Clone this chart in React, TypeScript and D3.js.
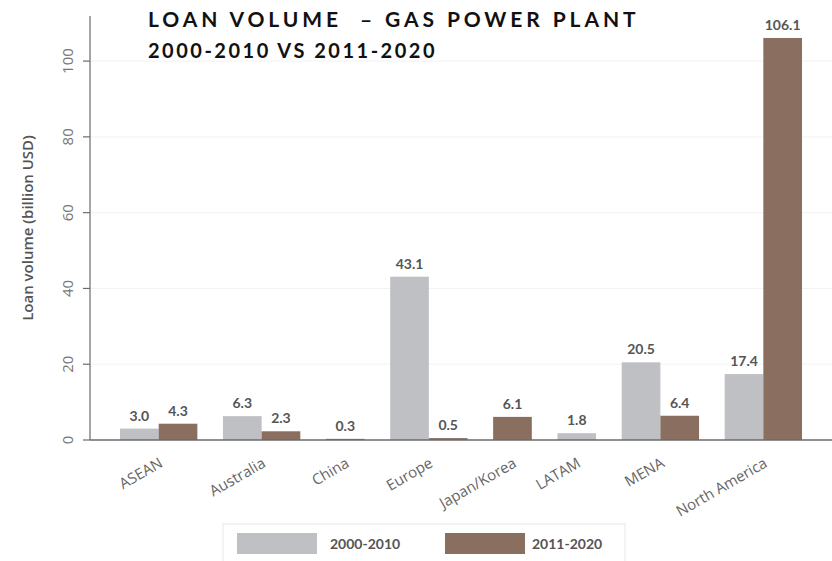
import React from "react";
import * as d3 from "d3";

const categories = ["ASEAN", "Australia", "China", "Europe", "Japan/Korea", "LATAM", "MENA", "North America"];
const series1: (number | null)[] = [3.0, 6.3, null, 43.1, null, 1.8, 20.5, 17.4];
const series2: (number | null)[] = [4.3, 2.3, 0.3, 0.5, 6.1, null, 6.4, 106.1];
const seriesNames = ["2000-2010", "2011-2020"];
const colors = ["#bfc0c4", "#8a6e60"];
const yTicks = [0, 20, 40, 60, 80, 100];

const W = 832, H = 561;
const FONT = "Lato, 'Open Sans', sans-serif";
const FONT2 = "'Open Sans', sans-serif";

export default function App() {
  const y = d3.scaleLinear().domain([0, 111.9]).range([440, 16]);
  const xLeft = 90, xRight = 832;
  const gapUnits = 0.662;
  const groups = categories.map((c, i) => {
    const bars: { s: number; v: number }[] = [];
    if (series1[i] != null) bars.push({ s: 0, v: series1[i] as number });
    if (series2[i] != null) bars.push({ s: 1, v: series2[i] as number });
    return { c, bars };
  });
  let u = 0;
  const placed = groups.map((g, i) => {
    const start = u;
    u += g.bars.length;
    const end = u;
    if (i < groups.length - 1) u += gapUnits;
    return { ...g, start, end };
  });
  const x = d3.scaleLinear().domain([0, u]).range([120, 802]);

  return (
    <svg width={W} height={H} style={{ position: "absolute", left: 0, top: 0, background: "#fff" }} fontFamily={FONT}>
      {yTicks.filter(t => t > 0).map(t => (
        <line key={"g" + t} x1={xLeft} x2={xRight} y1={y(t)} y2={y(t)} stroke="#f2f2f2" strokeWidth={1} />
      ))}
      <line x1={xLeft} x2={xLeft} y1={y(0)} y2={y.range()[1]} stroke="#6b6b6b" strokeWidth={1.2} />
      {yTicks.map(t => (
        <g key={"t" + t}>
          <line x1={xLeft - 7} x2={xLeft} y1={y(t)} y2={y(t)} stroke="#6b6b6b" strokeWidth={1.2} />
          <text transform={`translate(${73},${y(t)}) rotate(-90)`} textAnchor="middle" fontSize={15} fill="#777" fontFamily={FONT2}>{t}</text>
        </g>
      ))}
      <text transform={`translate(33,${(y(0) + y.range()[1]) / 2}) rotate(-90)`} textAnchor="middle" fontSize={15} fontWeight={600} fill="#555" fontFamily={FONT2}>Loan volume (billion USD)</text>

      {placed.map(g => (
        <g key={g.c}>
          {g.bars.map((b, k) => {
            const x0 = x(g.start + k), x1 = x(g.start + k + 1);
            return (
              <g key={k}>
                <rect x={x0} y={y(b.v)} width={x1 - x0} height={y(0) - y(b.v)} fill={colors[b.s]} />
                <text x={(x0 + x1) / 2} y={y(b.v) - 8} textAnchor="middle" fontSize={14} fontWeight={700} fill="#555">{b.v.toFixed(1)}</text>
              </g>
            );
          })}
          <text transform={`translate(${(x(g.start) + x(g.end)) / 2 + 5},${466}) rotate(-30)`} textAnchor="end" fontSize={15} fill="#666" fontFamily={FONT2}>{g.c}</text>
        </g>
      ))}
      <line x1={xLeft} x2={xRight} y1={y(0)} y2={y(0)} stroke="#6b6b6b" strokeWidth={1.5} />

      <text x={148} y={27} fontSize={21} fontWeight={700} letterSpacing={3.9} fill="#111" style={{ whiteSpace: "pre" }}>{"LOAN VOLUME  – GAS POWER PLANT"}</text>
      <text x={148} y={58} fontSize={20} fontWeight={700} letterSpacing={2.5} fill="#111">2000-2010 VS 2011-2020</text>

      <rect x={223} y={524} width={402} height={50} fill="#fff" stroke="#e6edf0" strokeWidth={1.2} />
      {seriesNames.map((n, i) => (
        <g key={n}>
          <rect x={237 + i * 208} y={533} width={80} height={21} fill={colors[i]} />
          <text x={330 + i * 202} y={549} fontSize={14} fontWeight={700} fill="#555">{n}</text>
        </g>
      ))}
    </svg>
  );
}
